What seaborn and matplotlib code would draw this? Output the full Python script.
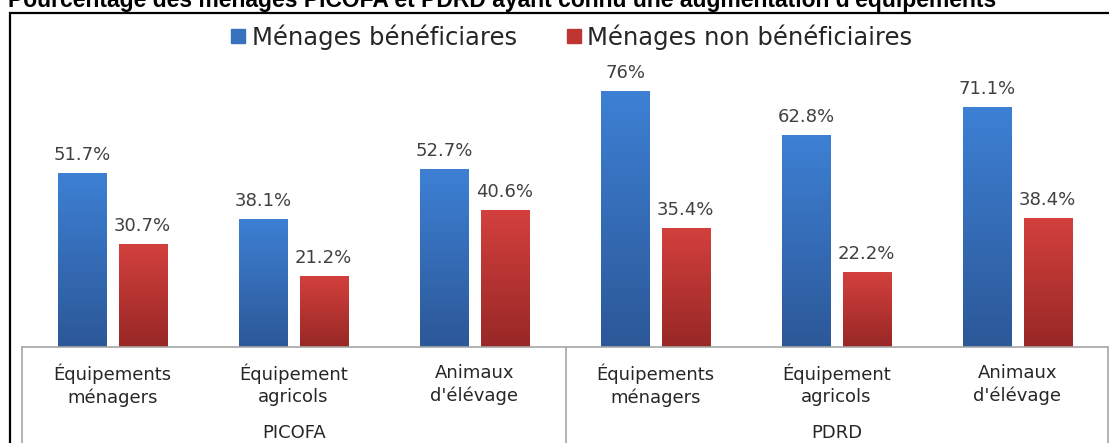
import numpy as np
import pandas as pd
import matplotlib
matplotlib.use("Agg")
import matplotlib.pyplot as plt
import seaborn as sns
from matplotlib.lines import Line2D
from matplotlib.patches import Rectangle

# ---- data ----
programmes = ["PICOFA", "PDRD"]
categories = ["Équipements\nménagers", "Équipement\nagricols", "Animaux\nd'élévage"]
series = ["Ménages bénéficiares", "Ménages non bénéficiaires"]
beneficiaires = [51.7, 38.1, 52.7, 76.0, 62.8, 71.1]
non_beneficiaires = [30.7, 21.2, 40.6, 35.4, 22.2, 38.4]
title = "Pourcentage des ménages PICOFA et PDRD ayant connu une augmentation d'équipements"

keys = [f"{p}|{c}" for p in programmes for c in categories]
tick_labels = [c for p in programmes for c in categories]

df = pd.DataFrame({
    "key": keys * 2,
    "serie": [series[0]] * len(keys) + [series[1]] * len(keys),
    "value": beneficiaires + non_beneficiaires,
})

blue_top, blue_bot = "#3D80D4", "#2C5898"
red_top, red_bot = "#D3403D", "#982826"
blue_mid, red_mid = "#3672BE", "#BE3634"

sns.set_theme(style="white")
plt.rcParams["font.family"] = ["DejaVu Sans"]

W, H = 1109, 443
fig = plt.figure(figsize=(W / 100, H / 100), dpi=100)
fig.patch.set_facecolor("white")

# axes: x from 22 to 1108 px, baseline at y=347, top at y=60
ax = fig.add_axes([22 / W, (H - 347) / H, (1108 - 22) / W, (347 - 60) / H])
sns.barplot(data=df, x="key", y="value", hue="serie", order=keys, hue_order=series,
            palette=[blue_mid, red_mid], width=0.667, gap=0.2, saturation=1,
            legend=False, ax=ax, errorbar=None)

ax.set_xlim(-0.5, len(keys) - 0.5)
ax.set_ylim(0, 85.2)

# gradients on bars
def grad(c_top, c_bot):
    a = np.array(matplotlib.colors.to_rgb(c_top))
    b = np.array(matplotlib.colors.to_rgb(c_bot))
    t = np.linspace(0, 1, 64)[:, None]
    return (a * (1 - t) + b * t)[:, None, :]

patches = list(ax.patches)
n = len(keys)
for i, p in enumerate(patches):
    x, w, h = p.get_x(), p.get_width(), p.get_height()
    img = grad(blue_top, blue_bot) if i < n else grad(red_top, red_bot)
    im = ax.imshow(img, extent=[x, x + w, 0, h], aspect="auto", origin="upper",
                   zorder=p.get_zorder() + 0.1, interpolation="bilinear")
    im.set_clip_path(p)
    p.set_edgecolor("none")
    ax.annotate(f"{h:g}%", (x + w / 2, h), xytext=(0, 9.4), textcoords="offset points",
                ha="center", va="baseline", fontsize=13, color="#404040")

ax.set_xlim(-0.5, len(keys) - 0.5)
ax.set_ylim(0, 85.2)

for s in ax.spines.values():
    s.set_visible(False)
ax.set_yticks([])
ax.set_xlabel("")
ax.set_ylabel("")
ax.set_xticks(range(len(keys)))
ax.set_xticklabels(tick_labels, fontsize=13, color="#262626", linespacing=1.3)
ax.tick_params(axis="x", length=0, pad=12)

gray = "#A6A6A6"
fig.add_artist(Line2D([22 / W, 1108 / W], [(H - 347) / H] * 2, color=gray, lw=1.2))
for xp in [22, 566, 1107.5]:
    fig.add_artist(Line2D([xp / W] * 2, [0, (H - 347) / H], color=gray, lw=1.2))

# group labels
for p_name, xc in zip(programmes, [294, 837]):
    fig.text(xc / W, (H - 433) / H, p_name, ha="center", va="center", fontsize=13,
             color="#262626")

# legend
handles = [Line2D([], [], marker="s", linestyle="none", markersize=10.5,
                  markerfacecolor=c, markeredgecolor=c) for c in [blue_mid, red_mid]]
fig.legend(handles, series, loc="center", bbox_to_anchor=(571 / W, 1 - 37 / H), ncol=2,
           frameon=False, fontsize=17.5, handletextpad=0.2, columnspacing=2.0,
           handlelength=0.7, labelcolor="#262626")

# outer frame
fig.add_artist(Rectangle((10 / W, -0.2), 1.5, 1.2 - 13 / H, transform=fig.transFigure,
                         fill=False, edgecolor="black", lw=1.6))

# title (cut at top, as in the reference)
fig.text(8 / W, 1 - 7 / H, title, ha="left", va="baseline", fontsize=16.5,
         fontweight="bold", family="Liberation Sans", color="black")

fig.savefig("out.png", dpi=100)
